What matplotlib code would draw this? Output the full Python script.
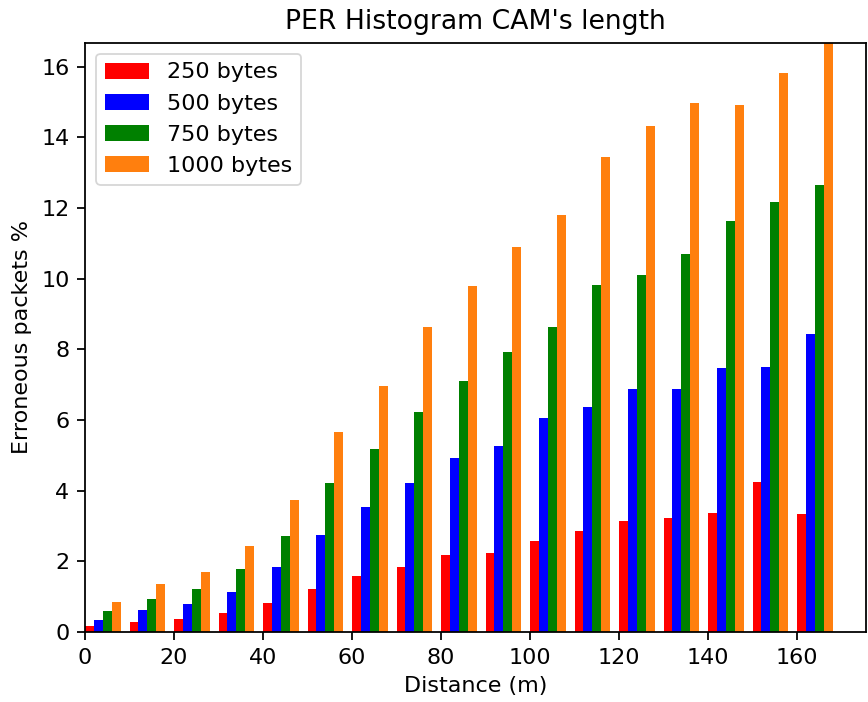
import numpy as np
import matplotlib
matplotlib.use("Agg")
import matplotlib.pyplot as plt

# distancia (m) y porcentaje de paquetes erróneos por tamaño de CAM
distance = [0, 10, 20, 30, 40, 50, 60, 70, 80, 90, 100, 110, 120, 130, 140, 150, 160]
per_250 = [0.18, 0.28, 0.38, 0.54, 0.82, 1.23, 1.58, 1.84, 2.18, 2.24, 2.58, 2.86,
           3.14, 3.23, 3.37, 4.25, 3.34]
per_500 = [0.34, 0.62, 0.79, 1.13, 1.84, 2.75, 3.54, 4.22, 4.92, 5.26, 6.06, 6.37,
           6.88, 6.88, 7.47, 7.50, 8.43]
per_750 = [0.59, 0.93, 1.22, 1.78, 2.72, 4.22, 5.18, 6.23, 7.10, 7.93, 8.63, 9.82,
           10.10, 10.70, 11.63, 12.17, 12.65]
per_1000 = [0.85, 1.36, 1.70, 2.43, 3.74, 5.66, 6.96, 8.63, 9.79, 10.90, 11.80, 13.44,
            14.32, 14.97, 14.92, 15.82, 16.68]

labels = ["250 bytes", "500 bytes", "750 bytes", "1000 bytes"]
colors = ["red", "blue", "green", "#ff7f0e"]

s = 1.6
plt.rcParams.update({
    "font.size": 10 * s,
    "axes.linewidth": 0.8 * s,
    "xtick.major.width": 0.8 * s,
    "ytick.major.width": 0.8 * s,
    "xtick.major.size": 3.5 * s,
    "ytick.major.size": 3.5 * s,
    "xtick.major.pad": 3.5 * s,
    "ytick.major.pad": 3.5 * s,
    "axes.labelpad": 4.0 * s,
    "axes.titlepad": 6.0 * s,
})

fig = plt.figure(figsize=(8.68, 7.02), dpi=100)
ax = fig.add_axes([85 / 868, 70 / 702, 781 / 868, 589.5 / 702])

x = np.array(distance)
w = 2
for i, (vals, lab, col) in enumerate(zip([per_250, per_500, per_750, per_1000], labels, colors)):
    ax.bar(x + i * w, vals, width=w, align="edge", color=col, label=lab)

ax.set_xlim(0, 175.5)
ax.set_ylim(0, max(per_1000))
ax.set_xticks(range(0, 161, 20))
ax.set_yticks(range(0, 17, 2))
ax.set_xlabel("Distance (m)")
ax.set_ylabel("Erroneous packets %")
ax.set_title("PER Histogram CAM's length", fontsize=12 * s)
leg = ax.legend(loc="upper left", borderaxespad=0.5)
leg.get_frame().set_linewidth(0.8 * s)

fig.savefig("out.png", dpi=100)
